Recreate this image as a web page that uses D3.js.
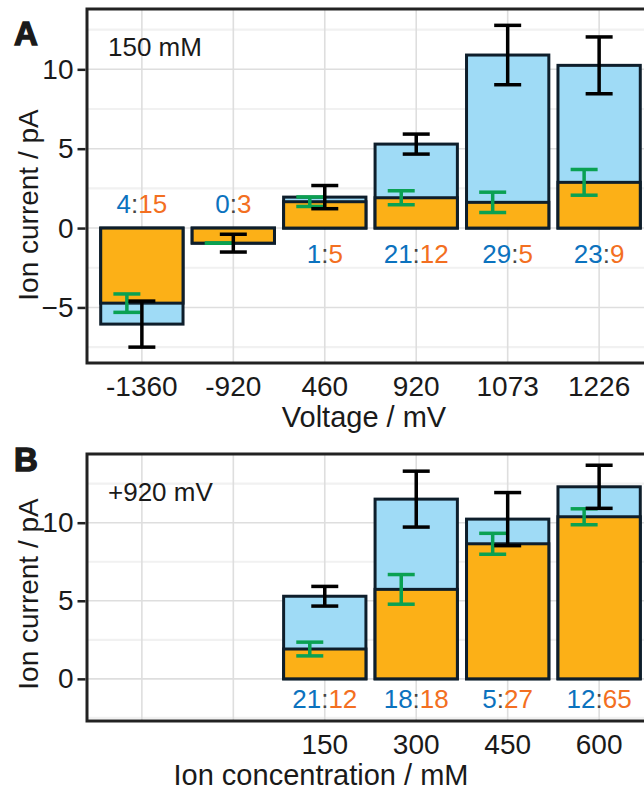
<!DOCTYPE html>
<html>
<head>
<meta charset="utf-8">
<script src="https://cdn.jsdelivr.net/npm/d3@7"></script>
<style>
  body { margin: 0; background: #fff; }
  svg { display: block; font-family: 'Liberation Sans', Arial, sans-serif; }
</style>
</head>
<body>
<svg id="chart" width="644" height="790"></svg>
<script>
'use strict';

// ── Panel A: 150 mM, by voltage ────────────────────────────────────────────
const voltages      = ['-1360', '-920', '460', '920', '1073', '1226'];
const voltBlue      = [-6.05, -0.95, 1.95, 5.29, 10.9, 10.25];
const voltBlueErr   = [1.45, 0.56, 0.73, 0.63, 1.87, 1.79];
const voltOrange    = [-4.73, -0.95, 1.66, 1.91, 1.62, 2.88];
const voltOrangeErr = [0.58, 0, 0.3, 0.44, 0.64, 0.81];
const voltNBlue     = [4, 0, 1, 21, 29, 23];
const voltNOrange   = [15, 3, 5, 12, 5, 9];

// ── Panel B: +920 mV, by concentration (first two slots empty) ────────────
const concs         = ['', '', '150', '300', '450', '600'];
const concBlue      = [null, null, 5.29, 11.51, 10.23, 12.3];
const concBlueErr   = [null, null, 0.63, 1.79, 1.7, 1.38];
const concOrange    = [null, null, 1.91, 5.73, 8.65, 10.38];
const concOrangeErr = [null, null, 0.44, 0.95, 0.67, 0.51];
const concNBlue     = [null, null, 21, 18, 5, 12];
const concNOrange   = [null, null, 12, 18, 27, 65];

const C = {
  blue: '#9fdbf6', orange: '#fcb017', outline: '#0e1e2b',
  green: '#0aa152', err: '#000000',
  txtBlue: '#0b72be', txtOrange: '#f36f21', txt: '#1a1a1a',
  grid: '#dedede', gridMinor: '#f1f1f1', frame: '#222222',
};

const svg = d3.select('#chart');

function drawPanel(p) {
  const g = svg.append('g');
  const idx = p.cats.map((_, i) => i);

  const x = d3.scalePoint().domain(idx).range([p.left, p.right]).padding(0.6);
  const step = x.step();
  const bw = step * 0.9;
  const y = d3.scaleLinear().domain(p.yDomain).range([p.bottom, p.top]);

  // Grid
  g.selectAll('.minor').data(p.minor).join('line')
    .attr('x1', p.left).attr('x2', p.right)
    .attr('y1', d => y(d)).attr('y2', d => y(d))
    .attr('stroke', C.gridMinor).attr('stroke-width', 2.2);
  g.selectAll('.major').data(p.ticks).join('line')
    .attr('x1', p.left).attr('x2', p.right)
    .attr('y1', d => y(d)).attr('y2', d => y(d))
    .attr('stroke', C.grid).attr('stroke-width', 1.6);
  g.selectAll('.vgrid').data(idx).join('line')
    .attr('x1', d => x(d)).attr('x2', d => x(d))
    .attr('y1', p.top).attr('y2', p.bottom)
    .attr('stroke', C.grid).attr('stroke-width', 1.6);

  const rows = idx.filter(i => p.blue[i] != null);

  // Bars: blue behind, orange in front
  [[p.blue, C.blue], [p.orange, C.orange]].forEach(([vals, fill]) => {
    g.append('g').selectAll('rect').data(rows).join('rect')
      .attr('x', i => x(i) - bw / 2)
      .attr('width', bw)
      .attr('y', i => y(Math.max(0, vals[i])))
      .attr('height', i => Math.abs(y(vals[i]) - y(0)))
      .attr('fill', fill)
      .attr('stroke', C.outline).attr('stroke-width', 3);
  });

  // Error bars
  function errBars(vals, errs, color, dx) {
    const cap = 27;
    const eg = g.append('g').attr('stroke', color).attr('stroke-width', 3.5).attr('fill', 'none');
    rows.forEach(i => {
      const cx = x(i) + dx;
      const hi = y(vals[i] + errs[i]), lo = y(vals[i] - errs[i]);
      eg.append('line').attr('x1', cx).attr('x2', cx).attr('y1', hi).attr('y2', lo);
      eg.append('line').attr('x1', cx - cap / 2).attr('x2', cx + cap / 2).attr('y1', hi).attr('y2', hi);
      eg.append('line').attr('x1', cx - cap / 2).attr('x2', cx + cap / 2).attr('y1', lo).attr('y2', lo);
    });
  }
  errBars(p.orange, p.orangeErr, C.green, -15);
  errBars(p.blue, p.blueErr, C.err, 0);

  // Count labels  blue:orange
  const lab = g.append('g').selectAll('text').data(rows).join('text')
    .attr('x', i => x(i))
    .attr('y', i => y(p.blue[i] < 0 ? p.labelNeg : p.labelPos))
    .attr('text-anchor', 'middle')
    .attr('font-size', 26);
  lab.append('tspan').attr('fill', C.txtBlue).text(i => p.nBlue[i]);
  lab.append('tspan').attr('fill', '#444').text(':');
  lab.append('tspan').attr('fill', C.txtOrange).text(i => p.nOrange[i]);

  // Frame
  g.append('rect')
    .attr('x', p.left).attr('y', p.top)
    .attr('width', p.right - p.left).attr('height', p.bottom - p.top)
    .attr('fill', 'none').attr('stroke', C.frame).attr('stroke-width', 3);

  // Y axis
  const yAxis = g.append('g').attr('transform', `translate(${p.left - 1.5},0)`)
    .call(d3.axisLeft(y).tickValues(p.ticks).tickSize(8).tickPadding(4)
      .tickFormat(d => d < 0 ? '\u2212' + Math.abs(d) : d));
  yAxis.select('.domain').remove();
  yAxis.selectAll('line').attr('stroke', C.frame).attr('stroke-width', 2.5);
  yAxis.selectAll('text').attr('font-size', 28).attr('fill', C.txt)
    .attr('font-family', "'Liberation Sans', Arial, sans-serif");

  // X tick labels
  g.append('g').selectAll('text').data(idx).join('text')
    .attr('x', i => x(i)).attr('y', p.bottom + 33)
    .attr('text-anchor', 'middle').attr('font-size', 28).attr('fill', C.txt)
    .text(i => p.cats[i]);

  // Titles
  g.append('text').attr('x', p.xTitleX).attr('y', p.bottom + 64)
    .attr('text-anchor', 'middle').attr('font-size', 29).attr('fill', C.txt)
    .text(p.xTitle);
  g.append('text')
    .attr('transform', `translate(38,${p.yTitleY}) rotate(-90)`)
    .attr('text-anchor', 'middle').attr('font-size', 28).attr('fill', C.txt)
    .text('Ion current / pA');

  g.append('text').attr('x', p.left + 21).attr('y', p.top + 47)
    .attr('font-size', 26).attr('fill', C.txt).text(p.note);

  g.append('text').attr('x', 14).attr('y', p.letterY)
    .attr('font-size', 33).attr('font-weight', 'bold')
    .attr('fill', '#1a1a1a').attr('stroke', '#1a1a1a').attr('stroke-width', 1.4)
    .text(p.letter);
}

drawPanel({
  letter: 'A', letterY: 45, note: '150 mM', xTitle: 'Voltage / mV', xTitleX: 364, yTitleY: 205,
  cats: voltages, blue: voltBlue, blueErr: voltBlueErr,
  orange: voltOrange, orangeErr: voltOrangeErr, nBlue: voltNBlue, nOrange: voltNOrange,
  left: 87, right: 654, top: 9, bottom: 363,
  yDomain: [-8.5, 13.8], ticks: [-5, 0, 5, 10], minor: [-7.5, -2.5, 2.5, 7.5, 12.5],
  labelNeg: 0.95, labelPos: -2.2,
});

drawPanel({
  letter: 'B', letterY: 471, note: '+920 mV', xTitle: 'Ion concentration / mM', xTitleX: 321, yTitleY: 594,
  cats: concs, blue: concBlue, blueErr: concBlueErr,
  orange: concOrange, orangeErr: concOrangeErr, nBlue: concNBlue, nOrange: concNOrange,
  left: 87, right: 654, top: 454, bottom: 721,
  yDomain: [-2.7, 14.4], ticks: [0, 5, 10], minor: [-2.5, 2.5, 7.5, 12.5],
  labelNeg: 0.95, labelPos: -1.87,
});
</script>
</body>
</html>
